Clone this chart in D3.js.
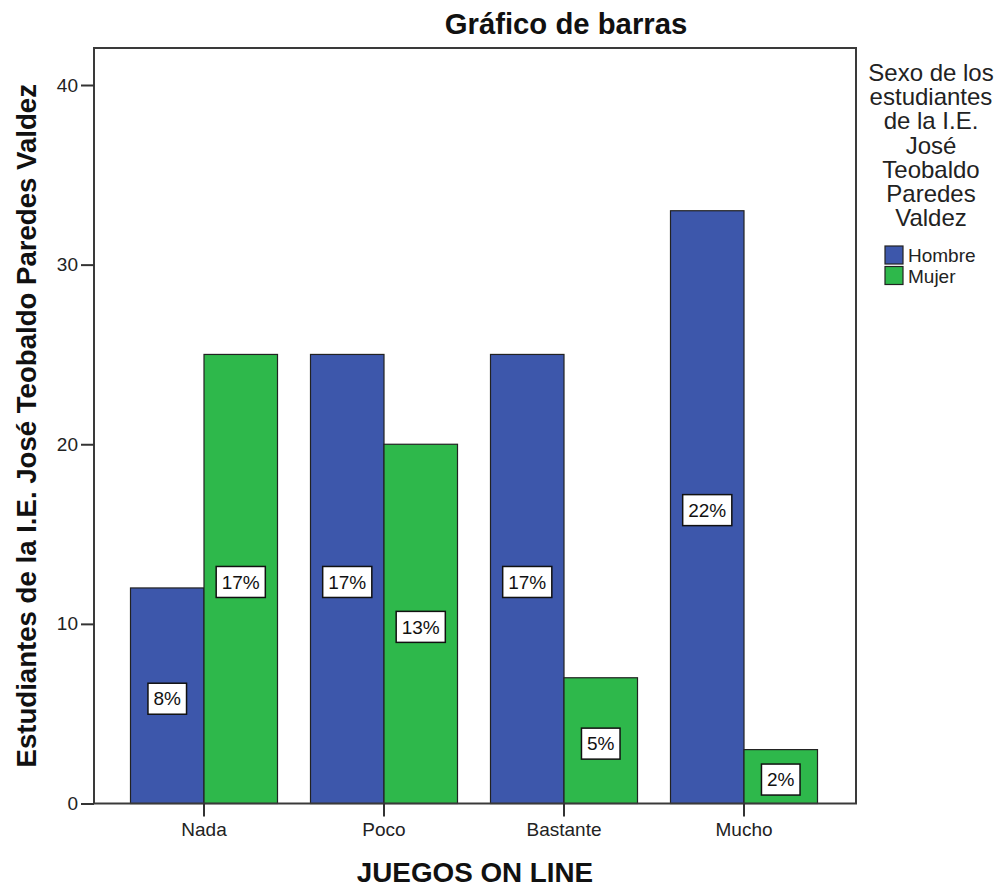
<!DOCTYPE html>
<html><head><meta charset="utf-8">
<script src="https://cdn.jsdelivr.net/npm/d3@7"></script>
<style>body{margin:0;background:#fff}svg{display:block}text{font-family:Arial,"Liberation Sans",sans-serif}</style>
</head><body>
<svg id="c" width="999" height="888"></svg>
<script>
const categories = ["Nada","Poco","Bastante","Mucho"];
const seriesNames = ["Hombre","Mujer"];
const hombre = [12,25,25,33];
const mujer = [25,20,7,3];
const hombrePct = [8,17,17,22];
const mujerPct = [17,13,5,2];
const yTicks = [0,10,20,30,40];
const colors = ["#3d57ab","#2eb84b"];
const titleText = "Gráfico de barras";
const xTitle = "JUEGOS ON LINE";
const yTitle = "Estudiantes de la I.E. José Teobaldo Paredes Valdez";
const legendTitle = ["Sexo de los","estudiantes","de la I.E.","José","Teobaldo","Paredes","Valdez"];

const svg = d3.select("#c");
const P = {l:94, r:856, t:48, b:803.5};
const y = d3.scaleLinear().domain([0,42.06]).range([P.b,P.t]);
const pi = 33/180;
const x0 = d3.scaleBand().domain(categories).range([114,834]).paddingInner(pi).paddingOuter(pi/2);
const x1 = d3.scaleBand().domain(seriesNames).range([0,x0.bandwidth()]);

const data = categories.map((c,i)=>({cat:c, vals:[
  {s:"Hombre", v:hombre[i], p:hombrePct[i]},
  {s:"Mujer", v:mujer[i], p:mujerPct[i]}]}));

// title
svg.append("text").attr("x",566).attr("y",34).attr("text-anchor","middle")
  .attr("font-size",29.3).attr("font-weight","bold").attr("fill","#111").text(titleText);

// bars
const g = svg.append("g");
const grp = g.selectAll("g.c").data(data).join("g").attr("transform",d=>`translate(${x0(d.cat)},0)`);
grp.selectAll("rect").data(d=>d.vals).join("rect")
  .attr("x",d=>x1(d.s)).attr("width",x1.bandwidth())
  .attr("y",d=>y(d.v)).attr("height",d=>y(0)-y(d.v))
  .attr("fill",(d,i)=>colors[i]).attr("stroke","#222").attr("stroke-width",1.2);

// labels
grp.each(function(d){
  const gg = d3.select(this);
  d.vals.forEach(v=>{
    const cx = x1(v.s)+x1.bandwidth()/2;
    const cy = y(v.v/2)+3;
    const lg = gg.append("g");
    const r = lg.append("rect");
    const t = lg.append("text").attr("x",cx).attr("y",cy).attr("dy","0.35em")
      .attr("text-anchor","middle").attr("font-size",19).attr("fill","#111").text(v.p+"%");
    const bb = t.node().getBBox();
    const w = bb.width+11, h = 31;
    r.attr("x",cx-w/2).attr("y",cy-h/2).attr("width",w).attr("height",h)
      .attr("fill","#fff").attr("stroke","#111").attr("stroke-width",1.5);
  });
});

// frame
svg.append("rect").attr("x",P.l).attr("y",P.t).attr("width",P.r-P.l).attr("height",P.b-P.t)
  .attr("fill","none").attr("stroke","#3a3a3a").attr("stroke-width",2);

// y axis
const ya = svg.append("g").attr("transform",`translate(${P.l},0)`)
  .call(d3.axisLeft(y).tickValues(yTicks).tickSize(13).tickPadding(3).tickFormat(d3.format("d")));
ya.select(".domain").remove();
ya.selectAll("line").attr("stroke","#333").attr("stroke-width",2);
ya.selectAll("text").attr("font-size",19).attr("fill","#222").style("font-family","Arial, 'Liberation Sans', sans-serif");

// x axis
const xa = svg.append("g").attr("transform",`translate(0,${P.b})`)
  .call(d3.axisBottom(x0).tickSize(13).tickPadding(6));
xa.select(".domain").remove();
xa.selectAll("line").attr("stroke","#333").attr("stroke-width",2);
xa.selectAll("text").attr("font-size",19).attr("fill","#222").style("font-family","Arial, 'Liberation Sans', sans-serif");

// axis titles
svg.append("text").attr("x",(P.l+P.r)/2).attr("y",882).attr("text-anchor","middle")
  .attr("font-size",27.8).attr("font-weight","bold").attr("fill","#111").text(xTitle);
svg.append("text").attr("transform",`translate(36,${(P.t+P.b)/2}) rotate(-90)`).attr("text-anchor","middle")
  .attr("font-size",27.6).attr("font-weight","bold").attr("fill","#111").text(yTitle);

// legend
const lg = svg.append("g");
lg.selectAll("text.t").data(legendTitle).join("text").attr("class","t")
  .attr("x",931).attr("y",(d,i)=>81+i*24.2).attr("text-anchor","middle")
  .attr("font-size",24).attr("fill","#222").text(d=>d);
const li = lg.selectAll("g.i").data(seriesNames).join("g").attr("class","i")
  .attr("transform",(d,i)=>`translate(885,${246+i*20.5})`);
li.append("rect").attr("width",18).attr("height",18).attr("fill",(d,i)=>colors[i]).attr("stroke","#222").attr("stroke-width",1.2);
li.append("text").attr("x",23).attr("y",16).attr("font-size",19).attr("fill","#222").text(d=>d);
</script>
</body></html>
